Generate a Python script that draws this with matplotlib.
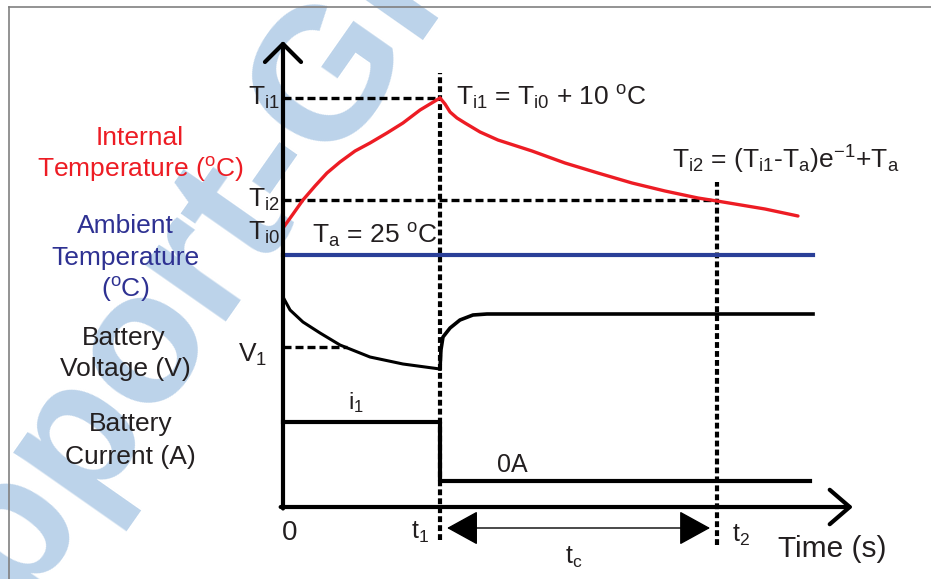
import numpy as np
import matplotlib.pyplot as plt
from matplotlib.lines import Line2D

plt.rcParams['font.family'] = ['Liberation Sans', 'DejaVu Sans']
plt.rcParams['mathtext.fontset'] = 'custom'
plt.rcParams['mathtext.rm'] = 'Liberation Sans'
plt.rcParams['mathtext.it'] = 'Liberation Sans:italic'

RED = '#ed1c24'
BLUE = '#2a3f98'
TXT = '#231f20'

# time axis in units of t1
t1 = 1.0
t2 = 2.764
t_end = 3.376

# signal levels (arbitrary stacked units)
T_i0 = 2.79
T_i1 = 4.09
T_i2 = 3.07
T_a = 2.52
V_1 = 1.60
V_rest = 1.93
i_1 = 0.85
i_0 = 0.26

# internal temperature while charging
t_heat = [0, 0.064, 0.127, 0.204, 0.280, 0.363, 0.459, 0.554, 0.662, 0.764, 0.873, 1.0]
temp_heat = [2.79, 2.93, 3.07, 3.21, 3.34, 3.45, 3.56, 3.64, 3.74, 3.84, 3.97, 4.09]

# internal temperature cooling back towards ambient
t_cool = [1.0, 1.032, 1.064, 1.108, 1.159, 1.255, 1.369, 1.586, 1.796, 2.006,
          2.223, 2.433, 2.643, 2.764, 3.070, 3.280]
temp_cool = [4.09, 4.03, 3.95, 3.89, 3.84, 3.75, 3.67, 3.56, 3.44, 3.34,
             3.24, 3.16, 3.09, 3.06, 2.98, 2.91]

# battery voltage under load, then relaxation
t_dis = [0, 0.045, 0.127, 0.236, 0.363, 0.554, 0.764, 1.0]
v_dis = [2.10, 1.97, 1.85, 1.74, 1.62, 1.50, 1.43, 1.38]
t_rec = [1.0, 1.006, 1.019, 1.064, 1.127, 1.210, 1.299, 3.376]
v_rec = [1.38, 1.57, 1.70, 1.79, 1.87, 1.92, 1.93, 1.93]

# battery current step
t_cur = [0, 1.0, 1.0, 3.357]
i_cur = [i_1, i_1, i_0, i_0]

fig = plt.figure(figsize=(9.31, 5.79), dpi=100)
ax = fig.add_axes([0, 0, 1, 1])
ax.set_xlim(-283 / 157, 648 / 157)
ax.set_ylim(-0.72, 5.07)
ax.axis('off')

# watermark
ax.text(0.133, 0.352, 'Support-GI', transform=ax.transAxes, rotation=55,
        rotation_mode='anchor', ha='center', va='center', fontsize=135,
        fontweight='bold', color='#bcd3ea', zorder=0)

# outer frame
fig.add_artist(Line2D([9 / 931, 9 / 931], [0, 1 - 7 / 579], color='#808080', lw=1.2))
fig.add_artist(Line2D([9 / 931, 1], [1 - 7 / 579, 1 - 7 / 579], color='#808080', lw=1.2))

# guide lines
dash_h = dict(color='black', lw=2.4, dashes=(2.4, 1.2), zorder=2)
ax.plot([0, t1], [T_i1, T_i1], **dash_h)
ax.plot([0, t2], [T_i2, T_i2], **dash_h)
ax.plot([0, 0.41], [V_1, V_1], **dash_h)
dash_v = dict(color='black', lw=3, dashes=(1.4, 0.75), zorder=2)
ax.plot([t1, t1], [-0.33, 4.34], **dash_v)
ax.plot([t2, t2], [-0.38, 3.25], **dash_v)

# traces
ax.plot(t_heat, temp_heat, color=RED, lw=2.4, solid_capstyle='round', zorder=3)
ax.plot(t_cool, temp_cool, color=RED, lw=2.4, solid_capstyle='round', zorder=3)
ax.plot([0, t_end], [T_a, T_a], color=BLUE, lw=3, zorder=3)
ax.plot(t_dis, v_dis, color='black', lw=2.2, zorder=3)
ax.plot(t_rec, v_rec, color='black', lw=2.6, zorder=3)
ax.plot(t_cur, i_cur, color='black', lw=3, zorder=3)

# axes with open arrow heads
ax.annotate('', xy=(0, 4.66), xytext=(0, -0.015),
            arrowprops=dict(arrowstyle='->,head_length=0.65,head_width=0.65',
                            lw=3, color='black', mutation_scale=20, shrinkA=0, shrinkB=0))
ax.annotate('', xy=(3.63, 0), xytext=(-0.015, 0),
            arrowprops=dict(arrowstyle='->,head_length=0.72,head_width=0.62',
                            lw=3, color='black', mutation_scale=20, shrinkA=0, shrinkB=0))
# tc span
ax.annotate('', xy=(2.72, -0.21), xytext=(1.045, -0.21),
            arrowprops=dict(arrowstyle='<|-|>,head_length=1.0,head_width=0.55',
                            lw=1, color='black', mutation_scale=20, shrinkA=0, shrinkB=0))

deg = r'$^{\mathrm{o}}$C'

# y tick labels
ax.text(-0.02, T_i1, r'T$_{\mathrm{i1}}$', ha='right', va='center', fontsize=19, color=TXT)
ax.text(-0.02, T_i2, r'T$_{\mathrm{i2}}$', ha='right', va='center', fontsize=19, color=TXT)
ax.text(-0.02, 2.74, r'T$_{\mathrm{i0}}$', ha='right', va='center', fontsize=19, color=TXT)
ax.text(-0.10, 1.52, r'V$_{\mathrm{1}}$', ha='right', va='center', fontsize=19, color=TXT)

# x tick labels
ax.text(0.04, -0.26, '0', ha='center', va='center', fontsize=20, color=TXT)
ax.text(0.873, -0.25, r't$_{\mathrm{1}}$', ha='center', va='center', fontsize=18, color=TXT)
ax.text(2.92, -0.28, r't$_{\mathrm{2}}$', ha='center', va='center', fontsize=18, color=TXT)
ax.text(1.85, -0.50, r't$_{\mathrm{c}}$', ha='center', va='center', fontsize=18, color=TXT)
ax.text(3.50, -0.42, 'Time (s)', ha='center', va='center', fontsize=21.5, color=TXT)

# annotations
ax.text(0.465, 1.04, r'i$_{\mathrm{1}}$', ha='center', va='center', fontsize=17, color=TXT)
ax.text(1.46, 0.42, '0A', ha='center', va='center', fontsize=18, color=TXT)
ax.text(0.185, 2.71, r'T$_{\mathrm{a}}$ = 25 ' + deg, ha='left', va='center', fontsize=19, color=TXT)
ax.text(1.10, 4.09, r'T$_{\mathrm{i1}}$ = T$_{\mathrm{i0}}$ + 10 ' + deg, ha='left', va='center',
        fontsize=19, color=TXT)
ax.text(2.48, 3.47, r'T$_{\mathrm{i2}}$ = (T$_{\mathrm{i1}}$-T$_{\mathrm{a}}$)e$^{\mathrm{-1}}$+T$_{\mathrm{a}}$',
        ha='left', va='center', fontsize=19, color=TXT)

# trace names on the left
def px(x, y):
    return (x - 283) / 157, (507 - y) / 100

for label, (x, y), c in [
    ('Internal', (140, 138), RED),
    ('Temperature (' + deg + ')', (140, 170), RED),
    ('Ambient', (125, 226), '#2e3192'),
    ('Temperature', (125, 258), '#2e3192'),
    ('(' + deg + ')', (125, 289), '#2e3192'),
    ('Battery', (124, 338), TXT),
    ('Voltage (V)', (125, 369), TXT),
    ('Battery', (131, 424), TXT),
    ('Current (A)', (130, 457), TXT),
]:
    ax.text(*px(x, y), label, ha='center', va='center', fontsize=19, color=c)

fig.savefig('out.png', dpi=100)
